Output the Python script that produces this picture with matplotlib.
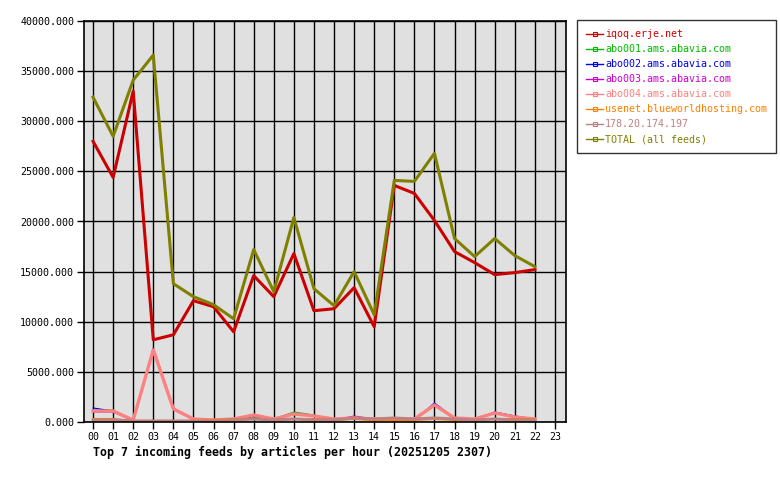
import matplotlib
matplotlib.use('Agg')
import matplotlib.pyplot as plt
from matplotlib.lines import Line2D

hours = list(range(23))
hour_labels = ['%02d' % h for h in range(24)]

feeds = ['iqoq.erje.net', 'abo001.ams.abavia.com', 'abo002.ams.abavia.com',
         'abo003.ams.abavia.com', 'abo004.ams.abavia.com',
         'usenet.blueworldhosting.com', '178.20.174.197', 'TOTAL (all feeds)']

iqoq = [28000, 24400, 33000, 8200, 8700, 12100, 11500, 9000, 14600, 12500, 16800, 11100,
        11300, 13400, 9500, 23600, 22800, 20100, 17000, 15900, 14700, 14900, 15200]
abo001 = [1200, 1200, 100, 7200, 1300, 200, 100, 200, 500, 300, 1000, 700,
          200, 300, 200, 300, 200, 1600, 300, 200, 900, 600, 200]
abo002 = [1400, 1100, 100, 7400, 1400, 200, 100, 200, 600, 300, 800, 600,
          200, 400, 200, 300, 200, 1900, 400, 200, 1000, 600, 300]
abo003 = [1000, 1000, 100, 7300, 1300, 200, 100, 300, 600, 300, 800, 600,
          200, 600, 300, 300, 200, 1700, 400, 200, 900, 500, 200]
abo004 = [1100, 1100, 200, 7200, 1300, 300, 200, 300, 700, 300, 800, 600,
          300, 400, 300, 300, 300, 1700, 400, 300, 900, 500, 300]
usenet = [300, 300, 100, 100, 100, 100, 200, 300, 300, 200, 300, 300,
          200, 300, 200, 200, 200, 300, 200, 200, 300, 300, 300]
ip178 = [200, 200, 100, 100, 100, 100, 100, 200, 300, 200, 300, 200,
         200, 400, 300, 400, 300, 400, 300, 200, 300, 200, 200]
total = [32400, 28500, 34100, 36600, 13800, 12500, 11700, 10300, 17200, 13000, 20400, 13300,
         11600, 15000, 10700, 24100, 24000, 26800, 18300, 16500, 18300, 16600, 15500]

series = [iqoq, abo001, abo002, abo003, abo004, usenet, ip178, total]
colors = ['#cc0000', '#00bb00', '#0000ee', '#cc00cc', '#ff8080', '#ff8000', '#c08080', '#808000']
widths = [2.2, 0.8, 0.8, 0.8, 2.4, 1.5, 2.2, 2.2]

plt.rcParams['font.family'] = 'DejaVu Sans Mono'

fig = plt.figure(figsize=(7.8, 4.8), dpi=100)
ax = fig.add_axes([84 / 780, 58 / 480, 482 / 780, 401 / 480])
ax.set_facecolor('#e0e0e0')

for vals, c, w in zip(series, colors, widths):
    ax.plot(hours, vals, color=c, lw=w)

ax.set_xlim(-0.45, 23.55)
ax.set_ylim(0, 40000)
ax.set_xticks(range(24))
ax.set_xticklabels(hour_labels)
ax.set_yticks(range(0, 40001, 5000))
ax.set_yticklabels(['%.3f' % v for v in range(0, 40001, 5000)])
ax.grid(True, color='black', lw=1)
ax.set_axisbelow(True)
ax.tick_params(direction='out', length=5, width=1, labelsize=7.2, colors='black', pad=2)
for s in ax.spines.values():
    s.set_linewidth(1.2)

fig.text(93 / 780, 1 - 452 / 480, 'Top 7 incoming feeds by articles per hour (20251205 2307)',
         fontsize=8.4, fontweight='bold', va='center', ha='left')

# legend: small hollow square on each line, label in series colour
handles = [Line2D([], [], color=c, lw=1, marker='s', ms=3, mfc='none', mew=0.8)
           for c in colors]
leg = fig.legend(handles, feeds, loc='upper left', bbox_to_anchor=(577 / 780, 1 - 20 / 480),
                 borderaxespad=0, fontsize=7.2, frameon=True, fancybox=False,
                 edgecolor='black', handlelength=1.7, handletextpad=0.2, borderpad=0.9,
                 labelspacing=0.5, labelcolor=colors)
leg.get_frame().set_linewidth(1)

fig.savefig('out.png', dpi=100)
